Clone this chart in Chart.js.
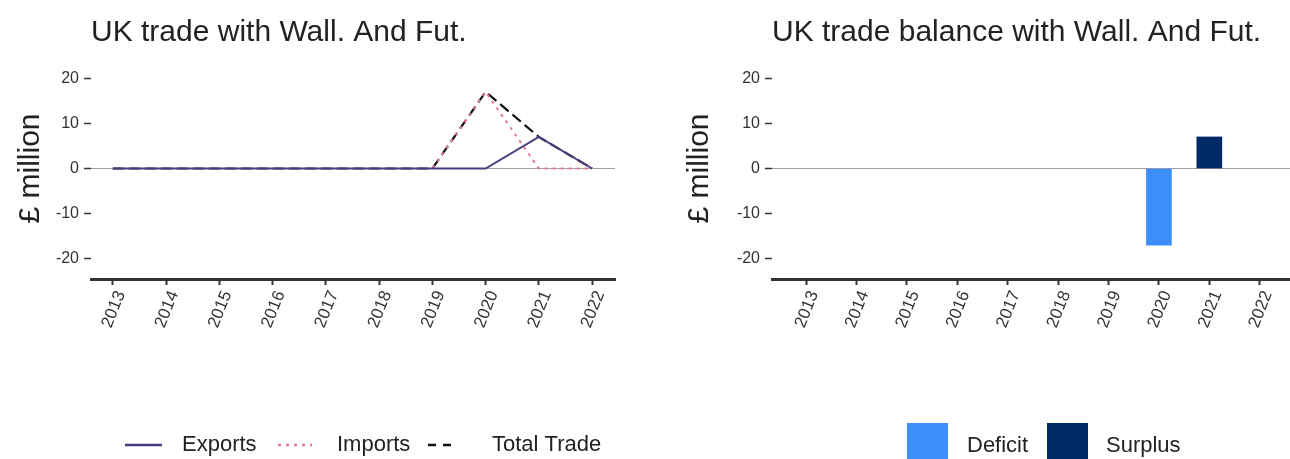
<!DOCTYPE html>
<html><head><meta charset="utf-8">
<script src="https://cdn.jsdelivr.net/npm/chart.js@4"></script>
<style>
html,body{margin:0;padding:0;background:#fff;overflow:hidden}
#wrap{position:relative;width:1290px;height:459px;overflow:hidden}
.c{position:absolute;top:0;width:645px;height:459px}
</style></head><body>
<div id="wrap">
<div class="c" style="left:0"><canvas id="c1" width="645" height="459"></canvas></div>
<div class="c" style="left:645px"><canvas id="c2" width="645" height="459"></canvas></div>
</div>
<script>
const years = [2013, 2014, 2015, 2016, 2017, 2018, 2019, 2020, 2021, 2022];
const exportsVals = [0, 0, 0, 0, 0, 0, 0, 0, 7, 0];
const importsVals = [0, 0, 0, 0, 0, 0, 0, 17, 0, 0];
const totalVals = [0, 0, 0, 0, 0, 0, 0, 17, 7, 0];
const balanceVals = [0, 0, 0, 0, 0, 0, 0, -17, 7, 0];
const yTicks = [-20, -10, 0, 10, 20];

const FONT = "'Liberation Sans', Arial, Helvetica, sans-serif";
Chart.defaults.font.family = FONT;
Chart.defaults.color = '#333';

function scales(xmin, xmax, yWidth, titlePad, stacked) {
  return {
    x: {
      type: 'linear', min: xmin, max: xmax, stacked, offset: false,
      afterBuildTicks: ax => { ax.ticks = years.map(v => ({ value: v })); },
      afterFit: s => { s.height = 180; },
      ticks: { autoSkip: false, minRotation: 68, maxRotation: 68, font: { size: 17 }, color: '#333', padding: 3,
               labelOffset: 8, callback: v => String(v) },
      grid: { offset: false, drawOnChartArea: false, drawTicks: true, tickLength: 6, tickWidth: 2, tickColor: '#333' },
      border: { display: true, width: 3, color: '#333' }
    },
    y: {
      min: -24.5, max: 24.5, stacked,
      afterBuildTicks: ax => { ax.ticks = yTicks.map(v => ({ value: v })); },
      afterFit: s => { s.width = yWidth; },
      ticks: { font: { size: 16 }, color: '#333', padding: 5, callback: v => String(v) },
      grid: { color: c => (c.tick && c.tick.value === 0) ? '#a0a0a0' : 'rgba(0,0,0,0)', lineWidth: 1,
              drawTicks: true, tickLength: 7, tickWidth: 1.5, tickColor: '#333' },
      border: { display: false },
      title: { display: true, text: '£ million', font: { size: 30 }, color: '#222', padding: { top: titlePad, bottom: 0 } }
    }
  };
}

function titleOpt(text) {
  return { display: true, text, align: 'start', fullSize: false, color: '#222',
           font: { size: 30, weight: 'normal' }, padding: { top: 15, bottom: 7 } };
}

const lineLegend = {
  id: 'lineLegend',
  afterDraw(chart) {
    const ctx = chart.ctx, y = 445;
    const pos = [
      { x0: 125, x1: 162, tx: 182, dash: [] },
      { x0: 278, x1: 312, tx: 337, dash: [3, 5] },
      { x0: 428, x1: 457, tx: 492, dash: [8, 7] }
    ];
    chart.data.datasets.forEach((ds, i) => {
      const p = pos[i];
      ctx.save();
      ctx.strokeStyle = ds.borderColor; ctx.lineWidth = ds.borderWidth + 0.5;
      ctx.setLineDash(p.dash);
      ctx.beginPath(); ctx.moveTo(p.x0, y); ctx.lineTo(p.x1, y); ctx.stroke();
      ctx.setLineDash([]);
      ctx.fillStyle = '#222'; ctx.font = '22px ' + FONT; ctx.textBaseline = 'middle';
      ctx.fillText(ds.label, p.tx, y);
      ctx.restore();
    });
  }
};

const barLegend = {
  id: 'barLegend',
  afterDraw(chart) {
    const ctx = chart.ctx, y = 446;
    const pos = [{ bx: 262, tx: 322 }, { bx: 402, tx: 461 }];
    chart.data.datasets.forEach((ds, i) => {
      const p = pos[i];
      ctx.save();
      ctx.fillStyle = ds.backgroundColor;
      ctx.fillRect(p.bx, 423, 41, 40);
      ctx.fillStyle = '#222'; ctx.font = '22px ' + FONT; ctx.textBaseline = 'middle';
      ctx.fillText(ds.label, p.tx, y);
      ctx.restore();
    });
  }
};

const pts = arr => years.map((yr, i) => ({ x: yr, y: arr[i] }));

new Chart(document.getElementById('c1'), {
  type: 'line',
  data: {
    datasets: [
      { label: 'Exports', data: pts(exportsVals), borderColor: '#4a3d80', borderWidth: 2, pointRadius: 0, tension: 0 },
      { label: 'Imports', data: pts(importsVals), borderColor: '#e07a95', borderWidth: 2, borderDash: [3, 5], pointRadius: 0, tension: 0 },
      { label: 'Total Trade', data: pts(totalVals), borderColor: '#111111', borderWidth: 2.2, borderDash: [11, 5], pointRadius: 0, tension: 0 }
    ]
  },
  options: {
    responsive: false, animation: false, devicePixelRatio: 1,
    layout: { padding: { left: 0, right: 30, top: 0, bottom: 0 } },
    scales: scales(2012.59, 2022.43, 91, 13, false),
    plugins: { legend: { display: false }, tooltip: { enabled: false }, title: titleOpt('UK trade with Wall. And Fut.') }
  },
  plugins: [lineLegend]
});

const bal = pred => years.map((yr, i) => ({ x: yr, y: pred(balanceVals[i]) ? balanceVals[i] : null }));

new Chart(document.getElementById('c2'), {
  type: 'bar',
  data: {
    datasets: [
      { label: 'Deficit', data: bal(v => v < 0), backgroundColor: '#3d8ef8', barThickness: 25 },
      { label: 'Surplus', data: bal(v => v > 0), backgroundColor: '#002a66', barThickness: 25 }
    ]
  },
  options: {
    responsive: false, animation: false, devicePixelRatio: 1,
    layout: { padding: { left: 0, right: 0, top: 0, bottom: 0 } },
    scales: scales(2012.325, 2022.6, 127, 37, true),
    plugins: { legend: { display: false }, tooltip: { enabled: false }, title: titleOpt('UK trade balance with Wall. And Fut.') }
  },
  plugins: [barLegend]
});
</script>
</body></html>
